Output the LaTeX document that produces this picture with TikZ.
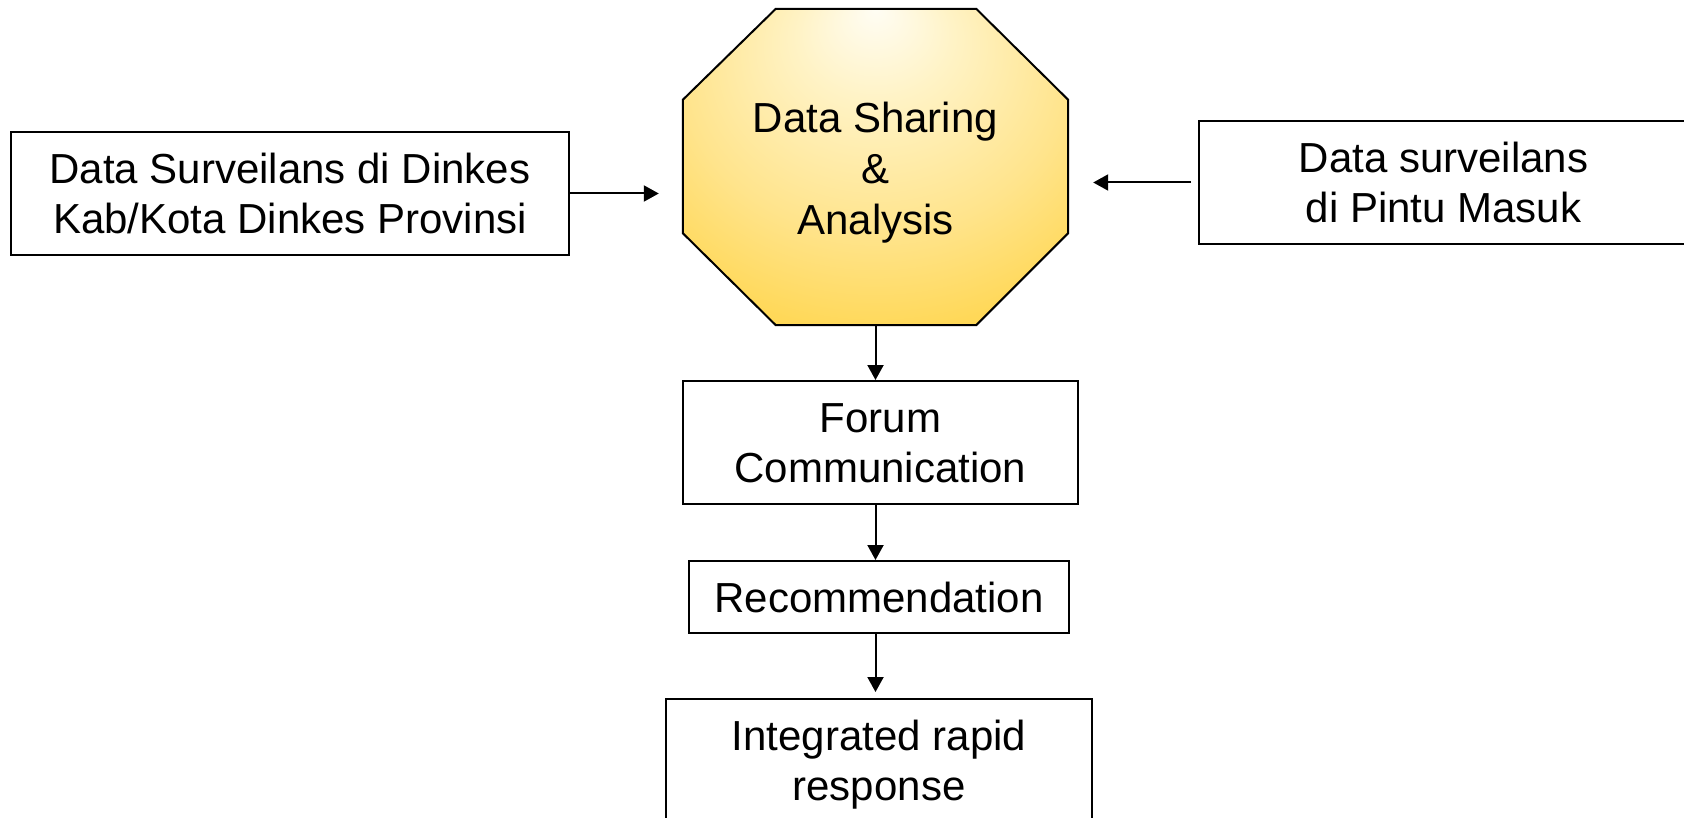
\documentclass[tikz,border=0pt]{standalone}
\usepackage{fontspec}
\setmainfont{Liberation Sans}
\usetikzlibrary{arrows.meta,calc}
\definecolor{ocA}{HTML}{FFFDF4}
\definecolor{ocB}{HTML}{FFF3C6}
\definecolor{ocC}{HTML}{FFE48C}
\definecolor{ocD}{HTML}{FFD858}
\definecolor{ocE}{HTML}{FFD244}
\definecolor{ocF}{HTML}{FFCB30}
\pgfdeclareradialshading{octshade}{\pgfpoint{0bp}{25bp}}{color(0bp)=(ocA); color(10bp)=(ocB); color(25bp)=(ocC); color(36bp)=(ocD); color(50bp)=(ocE); color(60bp)=(ocF)}
\newcommand{\mystrut}{\rule[-9pt]{0pt}{48pt}}
\tikzset{
  box/.style={draw=black, line width=2pt, fill=white, inner sep=0pt, align=center,
              font=\fontsize{42}{50}\selectfont},
  flow/.style={line width=2pt, -{Triangle[length=15pt,width=16pt]}},
  txt/.style={inner sep=0pt, align=center, font=\fontsize{42}{51}\selectfont}
}
\begin{document}
\begin{tikzpicture}[x=1pt,y=-1pt]
\useasboundingbox (0,0) rectangle (1684,818);
% octagon frame (invisible node used for anchors)
\node[inner sep=0pt, minimum width=385pt, minimum height=316pt] (oct) at (875.5,167) {};
\shadedraw[shading=octshade, line width=2pt, line join=miter]
  ($(oct.north west)+(93,0)$) -- ($(oct.north east)+(-92,0)$) --
  ($(oct.north east)+(0,91)$) -- ($(oct.south east)+(0,-92)$) --
  ($(oct.south east)+(-92,0)$) -- ($(oct.south west)+(93,0)$) --
  ($(oct.south west)+(0,-92)$) -- ($(oct.north west)+(0,91)$) -- cycle;
\node[txt] (octtext) at (875.5,169) {\mystrut Data Sharing\\\mystrut \&\\\mystrut Analysis};

\node[box, minimum width=558pt, minimum height=123pt] (left) at (290,193.5)
  {\mystrut Data Surveilans di Dinkes\\\mystrut Kab/Kota Dinkes Provinsi};
\node[box, minimum width=489pt, minimum height=123pt] (right) at (1443.5,182.5)
  {\mystrut Data surveilans\\\mystrut di Pintu Masuk};
\node[box, minimum width=395pt, minimum height=123pt] (forum) at (880.5,442.5)
  {\mystrut Forum\\\mystrut Communication};
\node[box, minimum width=380pt, minimum height=72pt] (rec) at (879,597)
  {\mystrut Recommendation};
\node[box, minimum width=426pt, minimum height=122pt] (irr) at (879,760)
  {\mystrut Integrated rapid\\\mystrut response};

\draw[flow, shorten >=24pt] (left.east) -- (oct.west |- left.east);
\draw[flow, shorten <=7pt, shorten >=25pt] (right.west) -- (oct.east |- right.west);
\draw[flow] (oct.south) -- (oct.south |- forum.north);
\draw[flow] (oct.south |- forum.south) -- (oct.south |- rec.north);
\draw[flow, shorten >=6pt] (oct.south |- rec.south) -- (oct.south |- irr.north);
\end{tikzpicture}
\end{document}
